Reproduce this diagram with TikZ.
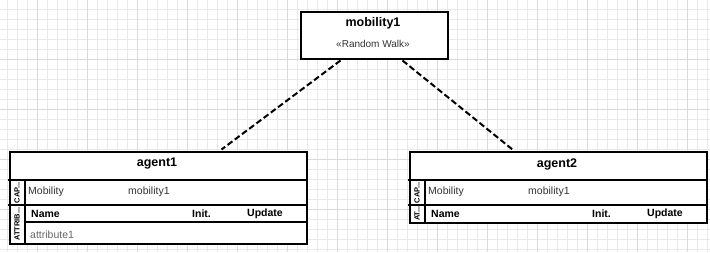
\documentclass[tikz,border=0pt]{standalone}
\usepackage{fontspec}
\setmainfont{Liberation Sans}
\usetikzlibrary{calc}

\definecolor{gridminor}{HTML}{E4EAF3}
\definecolor{gridmajor}{HTML}{D2DBEA}
\definecolor{txt}{HTML}{333333}
\definecolor{attr}{HTML}{666666}

\tikzset{
  box/.style={draw,line width=2pt,rectangle,anchor=north west,inner sep=0pt},
  title/.style={font=\fontsize{12.5}{14}\selectfont\bfseries},
  field/.style={anchor=west,inner sep=0pt,text=txt,font=\fontsize{10.5}{12}\selectfont},
  colhead/.style={anchor=west,inner sep=0pt,font=\fontsize{10.5}{12}\selectfont\bfseries},
  side/.style={rotate=90,inner sep=0pt,font=\fontsize{7.5}{8}\selectfont\bfseries},
  link/.style={line width=2pt,dash pattern=on 6pt off 3pt}
}

\begin{document}
\begin{tikzpicture}[x=1pt,y=-1pt]
\useasboundingbox (0,0) rectangle (710,252);
% background grid
\foreach \x in {7,17,...,707} \draw[gridminor,line width=1pt] (\x,0) -- (\x,252);
\foreach \y in {9,19,...,249} \draw[gridminor,line width=1pt] (0,\y) -- (710,\y);
\foreach \x in {37,87,...,687} \draw[gridmajor,line width=1pt] (\x,0) -- (\x,252);
\foreach \y in {59,109,...,209} \draw[gridmajor,line width=1pt] (0,\y) -- (710,\y);

% mobility node
\node[box,fill=white,minimum width=147,minimum height=47] (mob) at (299.5,10.5) {};
\node[title] (mobname) at (373,23) {mobility1};
\node[text=txt,font=\fontsize{10}{12}\selectfont] (mobkind) at (373,44) {«Random Walk»};

% agent1
\node[box,fill=white,minimum width=297,minimum height=92] (agent1) at (8.5,150.5) {};
\node[title] (a1name) at (157,164) {agent1};
\draw[line width=2pt] (8,180) -- (306,180);
\draw[line width=2pt] (8,205) -- (306,205);
\draw[line width=2pt] (25,222) -- (306,222);
\draw[line width=2pt] (25,180) -- (25,243);
\node[side] (a1cap) at (17,192.5) {CAP...};
\node[side] (a1att) at (17,224) {ATTRIB...};
\node[field] (a1mob) at (28,192) {Mobility};
\node[field] (a1mobval) at (128,192) {mobility1};
\node[colhead] (a1hname) at (31,213.5) {Name};
\node[colhead] (a1hinit) at (192,213.5) {Init.};
\node[colhead] (a1hupd) at (247,213.5) {Update};
\node[field,text=attr] (a1attr) at (30,235) {attribute1};

% agent2
\node[box,fill=white,minimum width=297,minimum height=71] (agent2) at (408.5,150.5) {};
\node[title] (a2name) at (557,164) {agent2};
\draw[line width=2pt] (408,180) -- (706,180);
\draw[line width=2pt] (408,205) -- (706,205);
\draw[line width=2pt] (425,180) -- (425,222);
\node[side] (a2cap) at (417,192.5) {CAP...};
\node[side] (a2att) at (417,213.5) {AT...};
\node[field] (a2mob) at (428,192) {Mobility};
\node[field] (a2mobval) at (528,192) {mobility1};
\node[colhead] (a2hname) at (431,213.5) {Name};
\node[colhead] (a2hinit) at (592,213.5) {Init.};
\node[colhead] (a2hupd) at (647,213.5) {Update};

% links
\draw[link] ($(mob.south west)+(41,1)$) -- ($(agent1.north west)+(213,-1)$);
\draw[link] ($(mob.south west)+(103,1)$) -- ($(agent2.north west)+(104,-1)$);
\end{tikzpicture}
\end{document}
